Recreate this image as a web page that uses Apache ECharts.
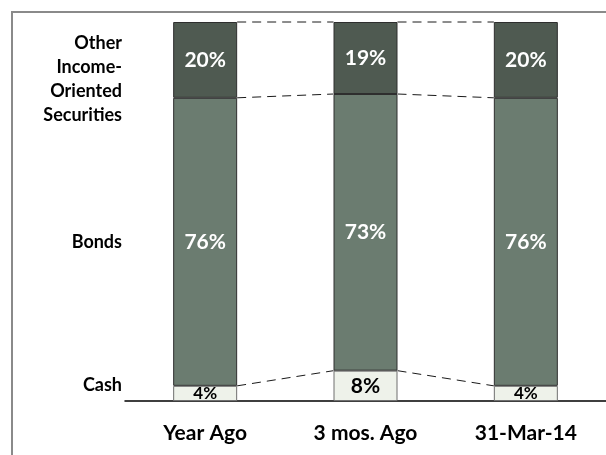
<!DOCTYPE html>
<html>
<head>
<meta charset="utf-8">
<script src="https://cdn.jsdelivr.net/npm/echarts@6/dist/echarts.min.js"></script>
<style>
  html, body { margin: 0; padding: 0; background: #fff; }
  #chart { width: 606px; height: 455px; }
</style>
</head>
<body>
<div id="chart"></div>
<script>
// Asset allocation by period (percent of portfolio)
const categories = ['Year Ago', '3 mos. Ago', '31-Mar-14'];
const cash = [4, 8, 4];
const bonds = [76, 73, 76];
const other = [20, 19, 20];
const segmentLabels = ['Cash', 'Bonds', 'Other\nIncome-\nOriented\nSecurities'];

const FONT = 'Lato, "Liberation Sans", Arial, sans-serif';
const BAR_WIDTH = 64;

function barSeries(name, values, fill, border, textColor) {
  return {
    name: name,
    type: 'bar',
    stack: 'alloc',
    barWidth: BAR_WIDTH,
    data: values.map(v => ({
      value: v,
      label: { fontSize: v < 6 ? 17 : 21 }
    })),
    itemStyle: { color: fill, borderColor: border, borderWidth: 1 },
    label: {
      show: true,
      position: 'inside',
      formatter: p => p.value + '%',
      color: textColor,
      fontFamily: FONT,
      fontWeight: 'bold'
    },
    emphasis: { disabled: true },
    z: 3
  };
}

// Dashed connectors joining matching segment boundaries of neighbouring bars
const connectors = [];
for (let i = 0; i < categories.length - 1; i++) {
  let a = 0, b = 0;
  [cash, bonds, other].forEach(arr => {
    a += arr[i];
    b += arr[i + 1];
    connectors.push([i, a, b]);
  });
}

const chart = echarts.init(document.getElementById('chart'), null, { renderer: 'canvas' });

chart.setOption({
  animation: false,
  backgroundColor: '#fff',
  grid: { left: 125, right: 0, top: 22, bottom: 54, containLabel: false },
  xAxis: {
    type: 'category',
    data: categories,
    axisLine: { show: true, lineStyle: { color: '#000', width: 1.5 } },
    axisTick: { show: false },
    axisLabel: {
      color: '#000',
      fontFamily: FONT,
      fontWeight: 'bold',
      fontSize: 21,
      margin: 22
    },
    splitLine: { show: false }
  },
  yAxis: {
    type: 'value',
    min: 0,
    max: 100,
    show: false
  },
  series: [
    barSeries('Cash', cash, '#eef2ea', '#6f6f6f', '#000'),
    barSeries('Bonds', bonds, '#6b7c70', '#2e2e2e', '#fff'),
    barSeries('Other Income-Oriented Securities', other, '#4f5a51', '#2e2e2e', '#fff'),
    {
      type: 'custom',
      data: connectors,
      encode: { x: 0, y: 1 },
      silent: true,
      z: 2,
      renderItem: function (params, api) {
        const i = api.value(0);
        const p1 = api.coord([i, api.value(1)]);
        const p2 = api.coord([i + 1, api.value(2)]);
        const half = BAR_WIDTH / 2;
        return {
          type: 'line',
          shape: { x1: p1[0] + half, y1: p1[1], x2: p2[0] - half, y2: p2[1] },
          style: { stroke: '#1a1a1a', lineWidth: 1, lineDash: [9, 6] }
        };
      }
    }
  ],
  graphic: [
    {
      type: 'rect',
      shape: { x: 12, y: 12, width: 700, height: 600 },
      style: { fill: 'none', stroke: '#8a8a8a', lineWidth: 2 },
      z: 0,
      silent: true
    },
    {
      type: 'text',
      x: 122, y: 79,
      style: {
        text: segmentLabels[2], fill: '#000', font: 'bold 18px ' + FONT,
        align: 'right', verticalAlign: 'middle', lineHeight: 24
      }
    },
    {
      type: 'text',
      x: 122, y: 242,
      style: {
        text: segmentLabels[1], fill: '#000', font: 'bold 18px ' + FONT,
        align: 'right', verticalAlign: 'middle'
      }
    },
    {
      type: 'text',
      x: 122, y: 385,
      style: {
        text: segmentLabels[0], fill: '#000', font: 'bold 18px ' + FONT,
        align: 'right', verticalAlign: 'middle'
      }
    }
  ]
});
</script>
</body>
</html>
